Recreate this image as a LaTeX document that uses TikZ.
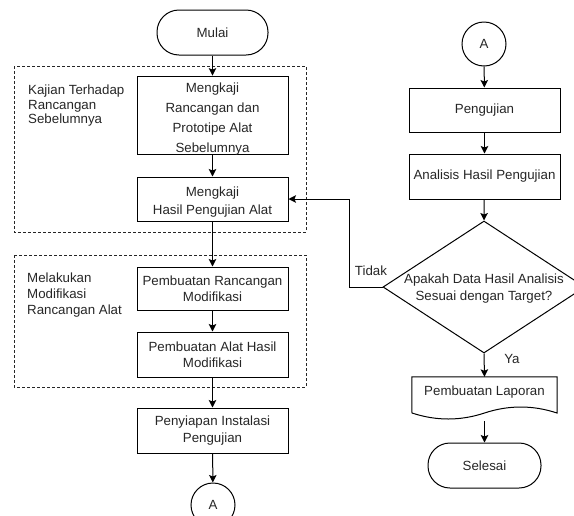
\documentclass[tikz,border=0pt]{standalone}
\usepackage{fontspec}
\setmainfont{Liberation Sans}
\usetikzlibrary{shapes.geometric,arrows.meta}
\begin{document}
\begin{tikzpicture}[x=1pt,y=-1pt,
  every node/.style={font=\fontsize{13.3}{16.5}\selectfont, text=black!85},
  proc/.style={draw=black, line width=1pt, minimum width=151pt, inner sep=0pt, align=center},
  term/.style={draw=black, line width=1pt, rounded corners=22pt, minimum height=45pt, inner sep=0pt},
  conn/.style={draw=black, circle, line width=1pt, minimum size=44pt, inner sep=0pt},
  decision/.style={draw=black, diamond, line width=1pt, minimum width=202pt, minimum height=132pt, inner sep=0pt},
  flow/.style={draw=black, line width=1pt, -{Stealth[length=7.5pt,width=7.5pt,inset=1.5pt]}},
  group/.style={draw=black!85, line width=0.9pt, dash pattern=on 3pt off 2pt},
  grouplabel/.style={anchor=north west, align=left, inner sep=0pt}
]
\useasboundingbox (0,0) rectangle (574,515);
\clip (0,0) rectangle (574,515);

% groups
\draw[group] (14,66) rectangle (306,232);
\draw[group] (14,255) rectangle (306,387);
\node[grouplabel, font=\fontsize{13.3}{14.5}\selectfont] (g1) at (28,85) {Kajian Terhadap\\Rancangan\\Sebelumnya};
\node[grouplabel, font=\fontsize{13.3}{16}\selectfont] (g2) at (27,273) {Melakukan\\Modifikasi\\Rancangan Alat};

% left column
\node[term, minimum width=111pt] (mulai) at (212.5,32.5) {Mulai};
\node[proc, minimum height=77pt, font=\fontsize{13.3}{20}\selectfont] (k1) at (212.5,115.5) {\rule{0pt}{16pt}Mengkaji\\Rancangan dan\\Prototipe Alat\\Sebelumnya};
\node[proc, minimum height=44pt, font=\fontsize{13.3}{18}\selectfont] (k2) at (212.5,199) {\rule{0pt}{15pt}Mengkaji\\Hasil Pengujian Alat};
\node[proc, minimum height=43pt] (m1) at (212.5,288.5) {Pembuatan Rancangan\\Modifikasi};
\node[proc, minimum height=45pt] (m2) at (212.5,354.5) {Pembuatan Alat Hasil\\Modifikasi};
\node[proc, minimum height=45pt] (inst) at (212.5,430.5) {Penyiapan Instalasi\\Pengujian};
\node[conn] (a1) at (213,505) {A};

\draw[flow] (mulai) -- (k1);
\draw[flow] (k1) -- (k2);
\draw[flow] (k2) -- (m1);
\draw[flow] (m1) -- (m2);
\draw[flow] (m2) -- (inst);
\draw[flow] (inst) -- (a1);

% right column
\node[conn] (a2) at (484,44) {A};
\node[proc, minimum height=44pt] (uji) at (484.5,110) {Pengujian};
\node[proc, minimum height=45pt] (anl) at (484.5,176.5) {Analisis Hasil Pengujian};
\node[decision] (dec) at (484,287) {};
\node[align=center, inner sep=0pt, font=\fontsize{13.3}{17}\selectfont] (dtext) at (484,288.5) {Apakah Data Hasil Analisis\\Sesuai dengan Target?};
\node[minimum width=145pt, minimum height=30pt, inner sep=0pt] (doc) at (484.5,392) {Pembuatan Laporan};
\draw[line width=1pt] (doc.north west) -- (doc.north east) -- (557,413)
  .. controls (532.8,405) and (508.7,405) .. (484.5,413)
  .. controls (460.3,421) and (436.2,421) .. (412,413) -- cycle;
\coordinate (docout) at (484.5,421);
\node[term, minimum width=113pt] (selesai) at (484.5,465.5) {Selesai};

\draw[flow] (a2) -- (uji);
\draw[flow] (uji) -- (anl);
\draw[flow] (anl) -- (dec.north);
\draw[flow] (dec.south) -- (doc.north);
\draw[flow] (docout) -- (selesai);

\coordinate (bend) at (349,287);
\draw[flow] (dec.west) -- (bend) |- (k2.east);
\node (tidak) at (371,271) {Tidak};
\node (ya) at (512,359) {Ya};
\end{tikzpicture}
\end{document}
